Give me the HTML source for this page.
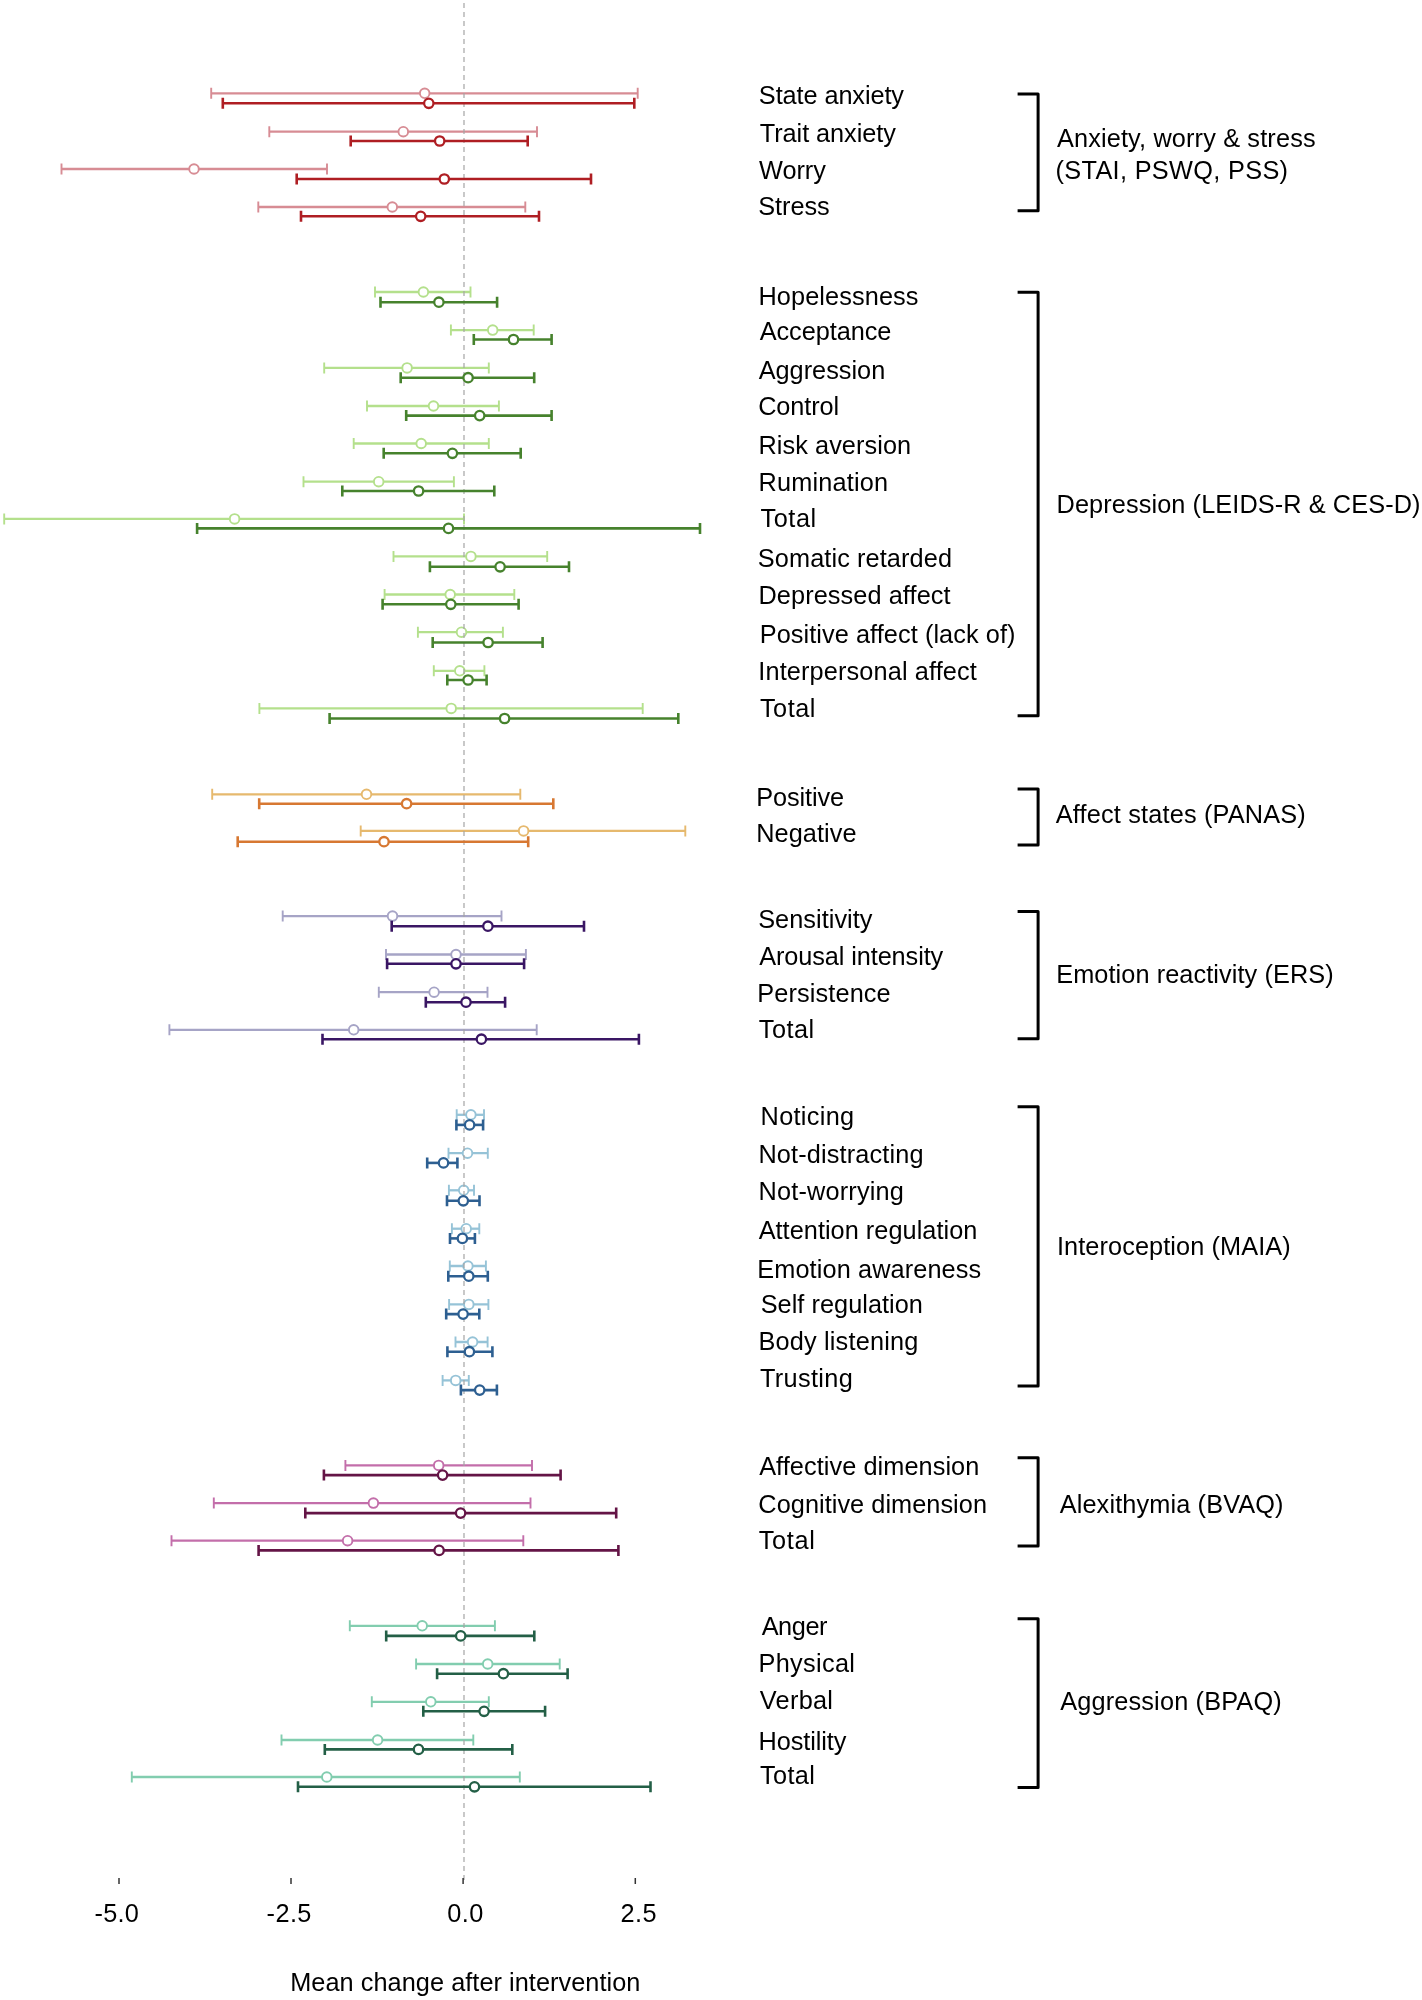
<!DOCTYPE html>
<html><head><meta charset="utf-8"><title>Forest plot</title>
<style>
html,body{margin:0;padding:0;background:#fff;}
svg{display:block;will-change:transform;}
text{font-family:"Liberation Sans",Arial,sans-serif;font-size:25.3px;fill:#000;word-spacing:0px;}
</style></head><body>
<svg width="1422" height="2000" viewBox="0 0 1422 2000">
<rect width="1422" height="2000" fill="#fff"/>
<g fill="#fff">
<path d="M211.2 93.3H637.7" stroke="#d78c94" stroke-width="2.3"/>
<path d="M211.2 87.8V98.8M637.7 87.8V98.8" stroke="#d78c94" stroke-width="1.9"/>
<circle cx="424.7" cy="93.3" r="4.8" stroke="#d78c94" stroke-width="1.9"/>
<path d="M269.3 131.7H537" stroke="#d78c94" stroke-width="2.3"/>
<path d="M269.3 126.2V137.2M537 126.2V137.2" stroke="#d78c94" stroke-width="1.9"/>
<circle cx="403.3" cy="131.7" r="4.8" stroke="#d78c94" stroke-width="1.9"/>
<path d="M61.5 169H327" stroke="#d78c94" stroke-width="2.3"/>
<path d="M61.5 163.5V174.5M327 163.5V174.5" stroke="#d78c94" stroke-width="1.9"/>
<circle cx="194" cy="169" r="4.8" stroke="#d78c94" stroke-width="1.9"/>
<path d="M258.3 207H525.3" stroke="#d78c94" stroke-width="2.3"/>
<path d="M258.3 201.5V212.5M525.3 201.5V212.5" stroke="#d78c94" stroke-width="1.9"/>
<circle cx="392.3" cy="207" r="4.8" stroke="#d78c94" stroke-width="1.9"/>
<path d="M375 292H470.5" stroke="#b4e08c" stroke-width="2.3"/>
<path d="M375 286.5V297.5M470.5 286.5V297.5" stroke="#b4e08c" stroke-width="1.9"/>
<circle cx="423.4" cy="292" r="4.8" stroke="#b4e08c" stroke-width="1.9"/>
<path d="M450.9 330.1H533.7" stroke="#b4e08c" stroke-width="2.3"/>
<path d="M450.9 324.6V335.6M533.7 324.6V335.6" stroke="#b4e08c" stroke-width="1.9"/>
<circle cx="492.7" cy="330.1" r="4.8" stroke="#b4e08c" stroke-width="1.9"/>
<path d="M324.2 367.9H488.8" stroke="#b4e08c" stroke-width="2.3"/>
<path d="M324.2 362.4V373.4M488.8 362.4V373.4" stroke="#b4e08c" stroke-width="1.9"/>
<circle cx="407.1" cy="367.9" r="4.8" stroke="#b4e08c" stroke-width="1.9"/>
<path d="M367 406H498.9" stroke="#b4e08c" stroke-width="2.3"/>
<path d="M367 400.5V411.5M498.9 400.5V411.5" stroke="#b4e08c" stroke-width="1.9"/>
<circle cx="433.5" cy="406" r="4.8" stroke="#b4e08c" stroke-width="1.9"/>
<path d="M353.7 443.5H488.8" stroke="#b4e08c" stroke-width="2.3"/>
<path d="M353.7 438V449M488.8 438V449" stroke="#b4e08c" stroke-width="1.9"/>
<circle cx="421.2" cy="443.5" r="4.8" stroke="#b4e08c" stroke-width="1.9"/>
<path d="M303.5 481.7H453.9" stroke="#b4e08c" stroke-width="2.3"/>
<path d="M303.5 476.2V487.2M453.9 476.2V487.2" stroke="#b4e08c" stroke-width="1.9"/>
<circle cx="378.7" cy="481.7" r="4.8" stroke="#b4e08c" stroke-width="1.9"/>
<path d="M4.2 518.9H464" stroke="#b4e08c" stroke-width="2.3"/>
<path d="M4.2 513.4V524.4M464 513.4V524.4" stroke="#b4e08c" stroke-width="1.9"/>
<circle cx="234.6" cy="518.9" r="4.8" stroke="#b4e08c" stroke-width="1.9"/>
<path d="M393.5 556.4H547.2" stroke="#b4e08c" stroke-width="2.3"/>
<path d="M393.5 550.9V561.9M547.2 550.9V561.9" stroke="#b4e08c" stroke-width="1.9"/>
<circle cx="470.9" cy="556.4" r="4.8" stroke="#b4e08c" stroke-width="1.9"/>
<path d="M384.6 594.5H514.3" stroke="#b4e08c" stroke-width="2.3"/>
<path d="M384.6 589V600M514.3 589V600" stroke="#b4e08c" stroke-width="1.9"/>
<circle cx="450.2" cy="594.5" r="4.8" stroke="#b4e08c" stroke-width="1.9"/>
<path d="M417.9 632.2H502.9" stroke="#b4e08c" stroke-width="2.3"/>
<path d="M417.9 626.7V637.7M502.9 626.7V637.7" stroke="#b4e08c" stroke-width="1.9"/>
<circle cx="461.5" cy="632.2" r="4.8" stroke="#b4e08c" stroke-width="1.9"/>
<path d="M433.8 670.8H484.4" stroke="#b4e08c" stroke-width="2.3"/>
<path d="M433.8 665.3V676.3M484.4 665.3V676.3" stroke="#b4e08c" stroke-width="1.9"/>
<circle cx="459.8" cy="670.8" r="4.8" stroke="#b4e08c" stroke-width="1.9"/>
<path d="M259.4 708.4H642.7" stroke="#b4e08c" stroke-width="2.3"/>
<path d="M259.4 702.9V713.9M642.7 702.9V713.9" stroke="#b4e08c" stroke-width="1.9"/>
<circle cx="451.2" cy="708.4" r="4.8" stroke="#b4e08c" stroke-width="1.9"/>
<path d="M212.2 794.3H520.3" stroke="#e6b96e" stroke-width="2.3"/>
<path d="M212.2 788.8V799.8M520.3 788.8V799.8" stroke="#e6b96e" stroke-width="1.9"/>
<circle cx="366.5" cy="794.3" r="4.8" stroke="#e6b96e" stroke-width="1.9"/>
<path d="M360.7 830.9H685.3" stroke="#e6b96e" stroke-width="2.3"/>
<path d="M360.7 825.4V836.4M685.3 825.4V836.4" stroke="#e6b96e" stroke-width="1.9"/>
<circle cx="523.6" cy="830.9" r="4.8" stroke="#e6b96e" stroke-width="1.9"/>
<path d="M282.7 916.1H501.5" stroke="#a6a4c6" stroke-width="2.3"/>
<path d="M282.7 910.6V921.6M501.5 910.6V921.6" stroke="#a6a4c6" stroke-width="1.9"/>
<circle cx="392.5" cy="916.1" r="4.8" stroke="#a6a4c6" stroke-width="1.9"/>
<path d="M386 954.5H525.9" stroke="#a6a4c6" stroke-width="2.3"/>
<path d="M386 949V960M525.9 949V960" stroke="#a6a4c6" stroke-width="1.9"/>
<circle cx="456" cy="954.5" r="4.8" stroke="#a6a4c6" stroke-width="1.9"/>
<path d="M378.8 992.2H487.5" stroke="#a6a4c6" stroke-width="2.3"/>
<path d="M378.8 986.7V997.7M487.5 986.7V997.7" stroke="#a6a4c6" stroke-width="1.9"/>
<circle cx="434.1" cy="992.2" r="4.8" stroke="#a6a4c6" stroke-width="1.9"/>
<path d="M169.4 1029.8H536.7" stroke="#a6a4c6" stroke-width="2.3"/>
<path d="M169.4 1024.3V1035.3M536.7 1024.3V1035.3" stroke="#a6a4c6" stroke-width="1.9"/>
<circle cx="353.7" cy="1029.8" r="4.8" stroke="#a6a4c6" stroke-width="1.9"/>
<path d="M456.7 1114.8H484" stroke="#96c3d7" stroke-width="2.3"/>
<path d="M456.7 1109.3V1120.3M484 1109.3V1120.3" stroke="#96c3d7" stroke-width="1.9"/>
<circle cx="470.9" cy="1114.8" r="4.8" stroke="#96c3d7" stroke-width="1.9"/>
<path d="M448.5 1153.2H487.8" stroke="#96c3d7" stroke-width="2.3"/>
<path d="M448.5 1147.7V1158.7M487.8 1147.7V1158.7" stroke="#96c3d7" stroke-width="1.9"/>
<circle cx="467.5" cy="1153.2" r="4.8" stroke="#96c3d7" stroke-width="1.9"/>
<path d="M448.9 1190.3H474" stroke="#96c3d7" stroke-width="2.3"/>
<path d="M448.9 1184.8V1195.8M474 1184.8V1195.8" stroke="#96c3d7" stroke-width="1.9"/>
<circle cx="463.7" cy="1190.3" r="4.8" stroke="#96c3d7" stroke-width="1.9"/>
<path d="M451.9 1228.7H479.3" stroke="#96c3d7" stroke-width="2.3"/>
<path d="M451.9 1223.2V1234.2M479.3 1223.2V1234.2" stroke="#96c3d7" stroke-width="1.9"/>
<circle cx="466.2" cy="1228.7" r="4.8" stroke="#96c3d7" stroke-width="1.9"/>
<path d="M449.8 1266H485.9" stroke="#96c3d7" stroke-width="2.3"/>
<path d="M449.8 1260.5V1271.5M485.9 1260.5V1271.5" stroke="#96c3d7" stroke-width="1.9"/>
<circle cx="467.9" cy="1266" r="4.8" stroke="#96c3d7" stroke-width="1.9"/>
<path d="M449.1 1304.4H488.4" stroke="#96c3d7" stroke-width="2.3"/>
<path d="M449.1 1298.9V1309.9M488.4 1298.9V1309.9" stroke="#96c3d7" stroke-width="1.9"/>
<circle cx="468.8" cy="1304.4" r="4.8" stroke="#96c3d7" stroke-width="1.9"/>
<path d="M455.5 1342H487.6" stroke="#96c3d7" stroke-width="2.3"/>
<path d="M455.5 1336.5V1347.5M487.6 1336.5V1347.5" stroke="#96c3d7" stroke-width="1.9"/>
<circle cx="472.6" cy="1342" r="4.8" stroke="#96c3d7" stroke-width="1.9"/>
<path d="M442.6 1380.4H468.8" stroke="#96c3d7" stroke-width="2.3"/>
<path d="M442.6 1374.9V1385.9M468.8 1374.9V1385.9" stroke="#96c3d7" stroke-width="1.9"/>
<circle cx="455.7" cy="1380.4" r="4.8" stroke="#96c3d7" stroke-width="1.9"/>
<path d="M345.4 1465.4H532" stroke="#c36eaa" stroke-width="2.3"/>
<path d="M345.4 1459.9V1470.9M532 1459.9V1470.9" stroke="#c36eaa" stroke-width="1.9"/>
<circle cx="438.7" cy="1465.4" r="4.8" stroke="#c36eaa" stroke-width="1.9"/>
<path d="M213.8 1503.1H530.5" stroke="#c36eaa" stroke-width="2.3"/>
<path d="M213.8 1497.6V1508.6M530.5 1497.6V1508.6" stroke="#c36eaa" stroke-width="1.9"/>
<circle cx="373.4" cy="1503.1" r="4.8" stroke="#c36eaa" stroke-width="1.9"/>
<path d="M171.5 1540.7H523.3" stroke="#c36eaa" stroke-width="2.3"/>
<path d="M171.5 1535.2V1546.2M523.3 1535.2V1546.2" stroke="#c36eaa" stroke-width="1.9"/>
<circle cx="347.6" cy="1540.7" r="4.8" stroke="#c36eaa" stroke-width="1.9"/>
<path d="M349.8 1625.8H494.9" stroke="#82cdaf" stroke-width="2.3"/>
<path d="M349.8 1620.3V1631.3M494.9 1620.3V1631.3" stroke="#82cdaf" stroke-width="1.9"/>
<circle cx="422.2" cy="1625.8" r="4.8" stroke="#82cdaf" stroke-width="1.9"/>
<path d="M416.1 1664H559.7" stroke="#82cdaf" stroke-width="2.3"/>
<path d="M416.1 1658.5V1669.5M559.7 1658.5V1669.5" stroke="#82cdaf" stroke-width="1.9"/>
<circle cx="487.7" cy="1664" r="4.8" stroke="#82cdaf" stroke-width="1.9"/>
<path d="M371.8 1701.8H488.8" stroke="#82cdaf" stroke-width="2.3"/>
<path d="M371.8 1696.3V1707.3M488.8 1696.3V1707.3" stroke="#82cdaf" stroke-width="1.9"/>
<circle cx="430.8" cy="1701.8" r="4.8" stroke="#82cdaf" stroke-width="1.9"/>
<path d="M281.5 1740H473.3" stroke="#82cdaf" stroke-width="2.3"/>
<path d="M281.5 1734.5V1745.5M473.3 1734.5V1745.5" stroke="#82cdaf" stroke-width="1.9"/>
<circle cx="377.6" cy="1740" r="4.8" stroke="#82cdaf" stroke-width="1.9"/>
<path d="M131.8 1777H519.8" stroke="#82cdaf" stroke-width="2.3"/>
<path d="M131.8 1771.5V1782.5M519.8 1771.5V1782.5" stroke="#82cdaf" stroke-width="1.9"/>
<circle cx="326.8" cy="1777" r="4.8" stroke="#82cdaf" stroke-width="1.9"/>
</g>
<path d="M464 3V1884" stroke="#a5a5a5" stroke-width="1.2" stroke-dasharray="5 4" fill="none"/>
<g fill="#fff">
<path d="M222.8 103.3H634.3" stroke="#af1e23" stroke-width="2.6"/>
<path d="M222.8 97.8V108.8M634.3 97.8V108.8" stroke="#af1e23" stroke-width="2.6"/>
<circle cx="428.8" cy="103.3" r="4.7" stroke="#af1e23" stroke-width="2.3"/>
<path d="M350.7 141H527.7" stroke="#af1e23" stroke-width="2.6"/>
<path d="M350.7 135.5V146.5M527.7 135.5V146.5" stroke="#af1e23" stroke-width="2.6"/>
<circle cx="439.7" cy="141" r="4.7" stroke="#af1e23" stroke-width="2.3"/>
<path d="M296.7 179H591" stroke="#af1e23" stroke-width="2.6"/>
<path d="M296.7 173.5V184.5M591 173.5V184.5" stroke="#af1e23" stroke-width="2.6"/>
<circle cx="444.3" cy="179" r="4.7" stroke="#af1e23" stroke-width="2.3"/>
<path d="M301 216.3H539" stroke="#af1e23" stroke-width="2.6"/>
<path d="M301 210.8V221.8M539 210.8V221.8" stroke="#af1e23" stroke-width="2.6"/>
<circle cx="420.7" cy="216.3" r="4.7" stroke="#af1e23" stroke-width="2.3"/>
<path d="M380.5 302.2H497.1" stroke="#46822d" stroke-width="2.6"/>
<path d="M380.5 296.7V307.7M497.1 296.7V307.7" stroke="#46822d" stroke-width="2.6"/>
<circle cx="438.9" cy="302.2" r="4.7" stroke="#46822d" stroke-width="2.3"/>
<path d="M473.8 339.5H551.6" stroke="#46822d" stroke-width="2.6"/>
<path d="M473.8 334V345M551.6 334V345" stroke="#46822d" stroke-width="2.6"/>
<circle cx="513.5" cy="339.5" r="4.7" stroke="#46822d" stroke-width="2.3"/>
<path d="M400.7 377.7H534.2" stroke="#46822d" stroke-width="2.6"/>
<path d="M400.7 372.2V383.2M534.2 372.2V383.2" stroke="#46822d" stroke-width="2.6"/>
<circle cx="468.1" cy="377.7" r="4.7" stroke="#46822d" stroke-width="2.3"/>
<path d="M406.2 415.6H551.6" stroke="#46822d" stroke-width="2.6"/>
<path d="M406.2 410.1V421.1M551.6 410.1V421.1" stroke="#46822d" stroke-width="2.6"/>
<circle cx="479.7" cy="415.6" r="4.7" stroke="#46822d" stroke-width="2.3"/>
<path d="M383.7 453.3H520.7" stroke="#46822d" stroke-width="2.6"/>
<path d="M383.7 447.8V458.8M520.7 447.8V458.8" stroke="#46822d" stroke-width="2.6"/>
<circle cx="452.4" cy="453.3" r="4.7" stroke="#46822d" stroke-width="2.3"/>
<path d="M342.3 491H494.3" stroke="#46822d" stroke-width="2.6"/>
<path d="M342.3 485.5V496.5M494.3 485.5V496.5" stroke="#46822d" stroke-width="2.6"/>
<circle cx="418.6" cy="491" r="4.7" stroke="#46822d" stroke-width="2.3"/>
<path d="M197.1 528.4H700" stroke="#46822d" stroke-width="2.6"/>
<path d="M197.1 522.9V533.9M700 522.9V533.9" stroke="#46822d" stroke-width="2.6"/>
<circle cx="448.5" cy="528.4" r="4.7" stroke="#46822d" stroke-width="2.3"/>
<path d="M429.9 566.8H569" stroke="#46822d" stroke-width="2.6"/>
<path d="M429.9 561.3V572.3M569 561.3V572.3" stroke="#46822d" stroke-width="2.6"/>
<circle cx="500.1" cy="566.8" r="4.7" stroke="#46822d" stroke-width="2.3"/>
<path d="M382.6 604.3H518.6" stroke="#46822d" stroke-width="2.6"/>
<path d="M382.6 598.8V609.8M518.6 598.8V609.8" stroke="#46822d" stroke-width="2.6"/>
<circle cx="450.8" cy="604.3" r="4.7" stroke="#46822d" stroke-width="2.3"/>
<path d="M432.7 642.5H542.6" stroke="#46822d" stroke-width="2.6"/>
<path d="M432.7 637V648M542.6 637V648" stroke="#46822d" stroke-width="2.6"/>
<circle cx="488.1" cy="642.5" r="4.7" stroke="#46822d" stroke-width="2.3"/>
<path d="M447.3 680H486.6" stroke="#46822d" stroke-width="2.6"/>
<path d="M447.3 674.5V685.5M486.6 674.5V685.5" stroke="#46822d" stroke-width="2.6"/>
<circle cx="468.1" cy="680" r="4.7" stroke="#46822d" stroke-width="2.3"/>
<path d="M329.6 718.5H678.3" stroke="#46822d" stroke-width="2.6"/>
<path d="M329.6 713V724M678.3 713V724" stroke="#46822d" stroke-width="2.6"/>
<circle cx="504.6" cy="718.5" r="4.7" stroke="#46822d" stroke-width="2.3"/>
<path d="M259.2 803.7H553.3" stroke="#d77832" stroke-width="2.6"/>
<path d="M259.2 798.2V809.2M553.3 798.2V809.2" stroke="#d77832" stroke-width="2.6"/>
<circle cx="406.6" cy="803.7" r="4.7" stroke="#d77832" stroke-width="2.3"/>
<path d="M237.7 841.7H528.2" stroke="#d77832" stroke-width="2.6"/>
<path d="M237.7 836.2V847.2M528.2 836.2V847.2" stroke="#d77832" stroke-width="2.6"/>
<circle cx="384" cy="841.7" r="4.7" stroke="#d77832" stroke-width="2.3"/>
<path d="M391.7 926.2H584" stroke="#3a1664" stroke-width="2.6"/>
<path d="M391.7 920.7V931.7M584 920.7V931.7" stroke="#3a1664" stroke-width="2.6"/>
<circle cx="487.9" cy="926.2" r="4.7" stroke="#3a1664" stroke-width="2.3"/>
<path d="M387.1 963.8H524.1" stroke="#3a1664" stroke-width="2.6"/>
<path d="M387.1 958.3V969.3M524.1 958.3V969.3" stroke="#3a1664" stroke-width="2.6"/>
<circle cx="456" cy="963.8" r="4.7" stroke="#3a1664" stroke-width="2.3"/>
<path d="M425.8 1002.2H505.1" stroke="#3a1664" stroke-width="2.6"/>
<path d="M425.8 996.7V1007.7M505.1 996.7V1007.7" stroke="#3a1664" stroke-width="2.6"/>
<circle cx="466" cy="1002.2" r="4.7" stroke="#3a1664" stroke-width="2.3"/>
<path d="M322.5 1039.2H638.9" stroke="#3a1664" stroke-width="2.6"/>
<path d="M322.5 1033.7V1044.7M638.9 1033.7V1044.7" stroke="#3a1664" stroke-width="2.6"/>
<circle cx="481.4" cy="1039.2" r="4.7" stroke="#3a1664" stroke-width="2.3"/>
<path d="M456.4 1124.9H483.1" stroke="#2d5f91" stroke-width="2.6"/>
<path d="M456.4 1119.4V1130.4M483.1 1119.4V1130.4" stroke="#2d5f91" stroke-width="2.6"/>
<circle cx="469.6" cy="1124.9" r="4.7" stroke="#2d5f91" stroke-width="2.3"/>
<path d="M427.2 1162.9H457.4" stroke="#2d5f91" stroke-width="2.6"/>
<path d="M427.2 1157.4V1168.4M457.4 1157.4V1168.4" stroke="#2d5f91" stroke-width="2.6"/>
<circle cx="443.5" cy="1162.9" r="4.7" stroke="#2d5f91" stroke-width="2.3"/>
<path d="M447 1200.8H479.5" stroke="#2d5f91" stroke-width="2.6"/>
<path d="M447 1195.3V1206.3M479.5 1195.3V1206.3" stroke="#2d5f91" stroke-width="2.6"/>
<circle cx="463.3" cy="1200.8" r="4.7" stroke="#2d5f91" stroke-width="2.3"/>
<path d="M450 1238.4H474.9" stroke="#2d5f91" stroke-width="2.6"/>
<path d="M450 1232.9V1243.9M474.9 1232.9V1243.9" stroke="#2d5f91" stroke-width="2.6"/>
<circle cx="462.4" cy="1238.4" r="4.7" stroke="#2d5f91" stroke-width="2.3"/>
<path d="M448.3 1276.2H487.8" stroke="#2d5f91" stroke-width="2.6"/>
<path d="M448.3 1270.7V1281.7M487.8 1270.7V1281.7" stroke="#2d5f91" stroke-width="2.6"/>
<circle cx="468.8" cy="1276.2" r="4.7" stroke="#2d5f91" stroke-width="2.3"/>
<path d="M446.2 1314.1H479.3" stroke="#2d5f91" stroke-width="2.6"/>
<path d="M446.2 1308.6V1319.6M479.3 1308.6V1319.6" stroke="#2d5f91" stroke-width="2.6"/>
<circle cx="463.1" cy="1314.1" r="4.7" stroke="#2d5f91" stroke-width="2.3"/>
<path d="M447.4 1351.7H492.4" stroke="#2d5f91" stroke-width="2.6"/>
<path d="M447.4 1346.2V1357.2M492.4 1346.2V1357.2" stroke="#2d5f91" stroke-width="2.6"/>
<circle cx="469.4" cy="1351.7" r="4.7" stroke="#2d5f91" stroke-width="2.3"/>
<path d="M460.9 1390.1H496.9" stroke="#2d5f91" stroke-width="2.6"/>
<path d="M460.9 1384.6V1395.6M496.9 1384.6V1395.6" stroke="#2d5f91" stroke-width="2.6"/>
<circle cx="479.7" cy="1390.1" r="4.7" stroke="#2d5f91" stroke-width="2.3"/>
<path d="M323.9 1475.1H560.6" stroke="#641446" stroke-width="2.6"/>
<path d="M323.9 1469.6V1480.6M560.6 1469.6V1480.6" stroke="#641446" stroke-width="2.6"/>
<circle cx="442.6" cy="1475.1" r="4.7" stroke="#641446" stroke-width="2.3"/>
<path d="M305.3 1513.1H616.2" stroke="#641446" stroke-width="2.6"/>
<path d="M305.3 1507.6V1518.6M616.2 1507.6V1518.6" stroke="#641446" stroke-width="2.6"/>
<circle cx="460.6" cy="1513.1" r="4.7" stroke="#641446" stroke-width="2.3"/>
<path d="M258.6 1550.4H618.4" stroke="#641446" stroke-width="2.6"/>
<path d="M258.6 1544.9V1555.9M618.4 1544.9V1555.9" stroke="#641446" stroke-width="2.6"/>
<circle cx="439.1" cy="1550.4" r="4.7" stroke="#641446" stroke-width="2.3"/>
<path d="M386.2 1635.9H534.3" stroke="#235f46" stroke-width="2.6"/>
<path d="M386.2 1630.4V1641.4M534.3 1630.4V1641.4" stroke="#235f46" stroke-width="2.6"/>
<circle cx="460.7" cy="1635.9" r="4.7" stroke="#235f46" stroke-width="2.3"/>
<path d="M437.1 1673.7H567.6" stroke="#235f46" stroke-width="2.6"/>
<path d="M437.1 1668.2V1679.2M567.6 1668.2V1679.2" stroke="#235f46" stroke-width="2.6"/>
<circle cx="503.4" cy="1673.7" r="4.7" stroke="#235f46" stroke-width="2.3"/>
<path d="M423.3 1711.3H545.1" stroke="#235f46" stroke-width="2.6"/>
<path d="M423.3 1705.8V1716.8M545.1 1705.8V1716.8" stroke="#235f46" stroke-width="2.6"/>
<circle cx="484.1" cy="1711.3" r="4.7" stroke="#235f46" stroke-width="2.3"/>
<path d="M324.8 1749.4H512.3" stroke="#235f46" stroke-width="2.6"/>
<path d="M324.8 1743.9V1754.9M512.3 1743.9V1754.9" stroke="#235f46" stroke-width="2.6"/>
<circle cx="418.5" cy="1749.4" r="4.7" stroke="#235f46" stroke-width="2.3"/>
<path d="M298 1786.8H650.5" stroke="#235f46" stroke-width="2.6"/>
<path d="M298 1781.3V1792.3M650.5 1781.3V1792.3" stroke="#235f46" stroke-width="2.6"/>
<circle cx="474.5" cy="1786.8" r="4.7" stroke="#235f46" stroke-width="2.3"/>
</g>
<g stroke="#000" stroke-width="3" fill="none" stroke-linejoin="round">
<path d="M1017.6 93.9H1038.1V210.75H1017.6"/>
<path d="M1017.6 292.3H1038.1V715.8H1017.6"/>
<path d="M1017.6 789H1038.1V845.1H1017.6"/>
<path d="M1017.6 911.4H1038.1V1038.8H1017.6"/>
<path d="M1017.6 1106.8H1038.1V1386.1H1017.6"/>
<path d="M1017.6 1457.8H1038.1V1545.9H1017.6"/>
<path d="M1017.6 1618.8H1038.1V1787.6H1017.6"/>
</g>
<g stroke="#333" stroke-width="1.5"><path d="M119 1878V1884"/><path d="M291 1878V1884"/><path d="M463.1 1878V1884"/><path d="M635.3 1878V1884"/></g>
<g id="labels">
<text x="758.87" y="103.8" textLength="145.15" lengthAdjust="spacing">State anxiety</text>
<text x="759.78" y="141.5" textLength="136.12" lengthAdjust="spacing">Trait anxiety</text>
<text x="759.07" y="179.3" textLength="66.8" lengthAdjust="spacing">Worry</text>
<text x="758.22" y="214.7" textLength="71.5" lengthAdjust="spacing">Stress</text>
<text x="758.45" y="304.9" textLength="160.07" lengthAdjust="spacing">Hopelessness</text>
<text x="759.64" y="340.2" textLength="131.76" lengthAdjust="spacing">Acceptance</text>
<text x="758.69" y="378.7" textLength="126.52" lengthAdjust="spacing">Aggression</text>
<text x="758.16" y="414.7" textLength="81.06" lengthAdjust="spacing">Control</text>
<text x="758.45" y="454.1" textLength="152.66" lengthAdjust="spacing">Risk aversion</text>
<text x="758.45" y="490.5" textLength="129.6" lengthAdjust="spacing">Rumination</text>
<text x="760.61" y="526.5" textLength="55.47" lengthAdjust="spacing">Total</text>
<text x="757.87" y="567.1" textLength="194.09" lengthAdjust="spacing">Somatic retarded</text>
<text x="758.45" y="603.8" textLength="192.12" lengthAdjust="spacing">Depressed affect</text>
<text x="759.77" y="642.8" textLength="255.65" lengthAdjust="spacing">Positive affect (lack of)</text>
<text x="758.33" y="679.6" textLength="218.55" lengthAdjust="spacing">Interpersonal affect</text>
<text x="759.92" y="717.2" textLength="55.56" lengthAdjust="spacing">Total</text>
<text x="756.21" y="805.6" textLength="87.97" lengthAdjust="spacing">Positive</text>
<text x="756.21" y="841.7" textLength="100.4" lengthAdjust="spacing">Negative</text>
<text x="758.19" y="928" textLength="114.27" lengthAdjust="spacing">Sensitivity</text>
<text x="759.15" y="964.7" textLength="184.1" lengthAdjust="spacing">Arousal intensity</text>
<text x="757.24" y="1001.8" textLength="133.45" lengthAdjust="spacing">Persistence</text>
<text x="758.78" y="1037.9" textLength="55.28" lengthAdjust="spacing">Total</text>
<text x="760.55" y="1125.4" textLength="93.59" lengthAdjust="spacing">Noticing</text>
<text x="758.45" y="1163.4" textLength="165.08" lengthAdjust="spacing">Not-distracting</text>
<text x="758.45" y="1199.6" textLength="145.5" lengthAdjust="spacing">Not-worrying</text>
<text x="758.64" y="1239" textLength="218.69" lengthAdjust="spacing">Attention regulation</text>
<text x="757.24" y="1277.6" textLength="223.96" lengthAdjust="spacing">Emotion awareness</text>
<text x="760.72" y="1313.1" textLength="162.16" lengthAdjust="spacing">Self regulation</text>
<text x="758.45" y="1350.3" textLength="159.83" lengthAdjust="spacing">Body listening</text>
<text x="759.92" y="1387.4" textLength="92.82" lengthAdjust="spacing">Trusting</text>
<text x="759.15" y="1475.4" textLength="220.17" lengthAdjust="spacing">Affective dimension</text>
<text x="758.36" y="1513" textLength="228.6" lengthAdjust="spacing">Cognitive dimension</text>
<text x="758.78" y="1549.3" textLength="56.08" lengthAdjust="spacing">Total</text>
<text x="761.64" y="1634.9" textLength="65.83" lengthAdjust="spacing">Anger</text>
<text x="758.45" y="1672" textLength="96.45" lengthAdjust="spacing">Physical</text>
<text x="759.78" y="1708.7" textLength="73.21" lengthAdjust="spacing">Verbal</text>
<text x="758.45" y="1749.6" textLength="87.9" lengthAdjust="spacing">Hostility</text>
<text x="759.92" y="1783.8" textLength="54.91" lengthAdjust="spacing">Total</text>
<text x="1056.92" y="146.8" textLength="258.67" lengthAdjust="spacing">Anxiety, worry &amp; stress</text>
<text x="1055.51" y="179" textLength="232.54" lengthAdjust="spacing">(STAI, PSWQ, PSS)</text>
<text x="1056.55" y="513" textLength="363.92" lengthAdjust="spacing">Depression (LEIDS-R &amp; CES-D)</text>
<text x="1055.69" y="822.7" textLength="250.11" lengthAdjust="spacing">Affect states (PANAS)</text>
<text x="1056.21" y="983.1" textLength="277.45" lengthAdjust="spacing">Emotion reactivity (ERS)</text>
<text x="1056.92" y="1255.3" textLength="233.77" lengthAdjust="spacing">Interoception (MAIA)</text>
<text x="1059.67" y="1512.5" textLength="223.88" lengthAdjust="spacing">Alexithymia (BVAQ)</text>
<text x="1060.14" y="1709.8" textLength="221.55" lengthAdjust="spacing">Aggression (BPAQ)</text>
<text x="94.49" y="1921.7" textLength="44.35" lengthAdjust="spacing">-5.0</text>
<text x="266.59" y="1921.7" textLength="44.81" lengthAdjust="spacing">-2.5</text>
<text x="447.19" y="1921.7" textLength="36.26" lengthAdjust="spacing">0.0</text>
<text x="620.45" y="1921.7" textLength="36.05" lengthAdjust="spacing">2.5</text>
<text x="290.24" y="1991.1" textLength="350.16" lengthAdjust="spacing">Mean change after intervention</text>
</g>
</svg>
</body></html>
